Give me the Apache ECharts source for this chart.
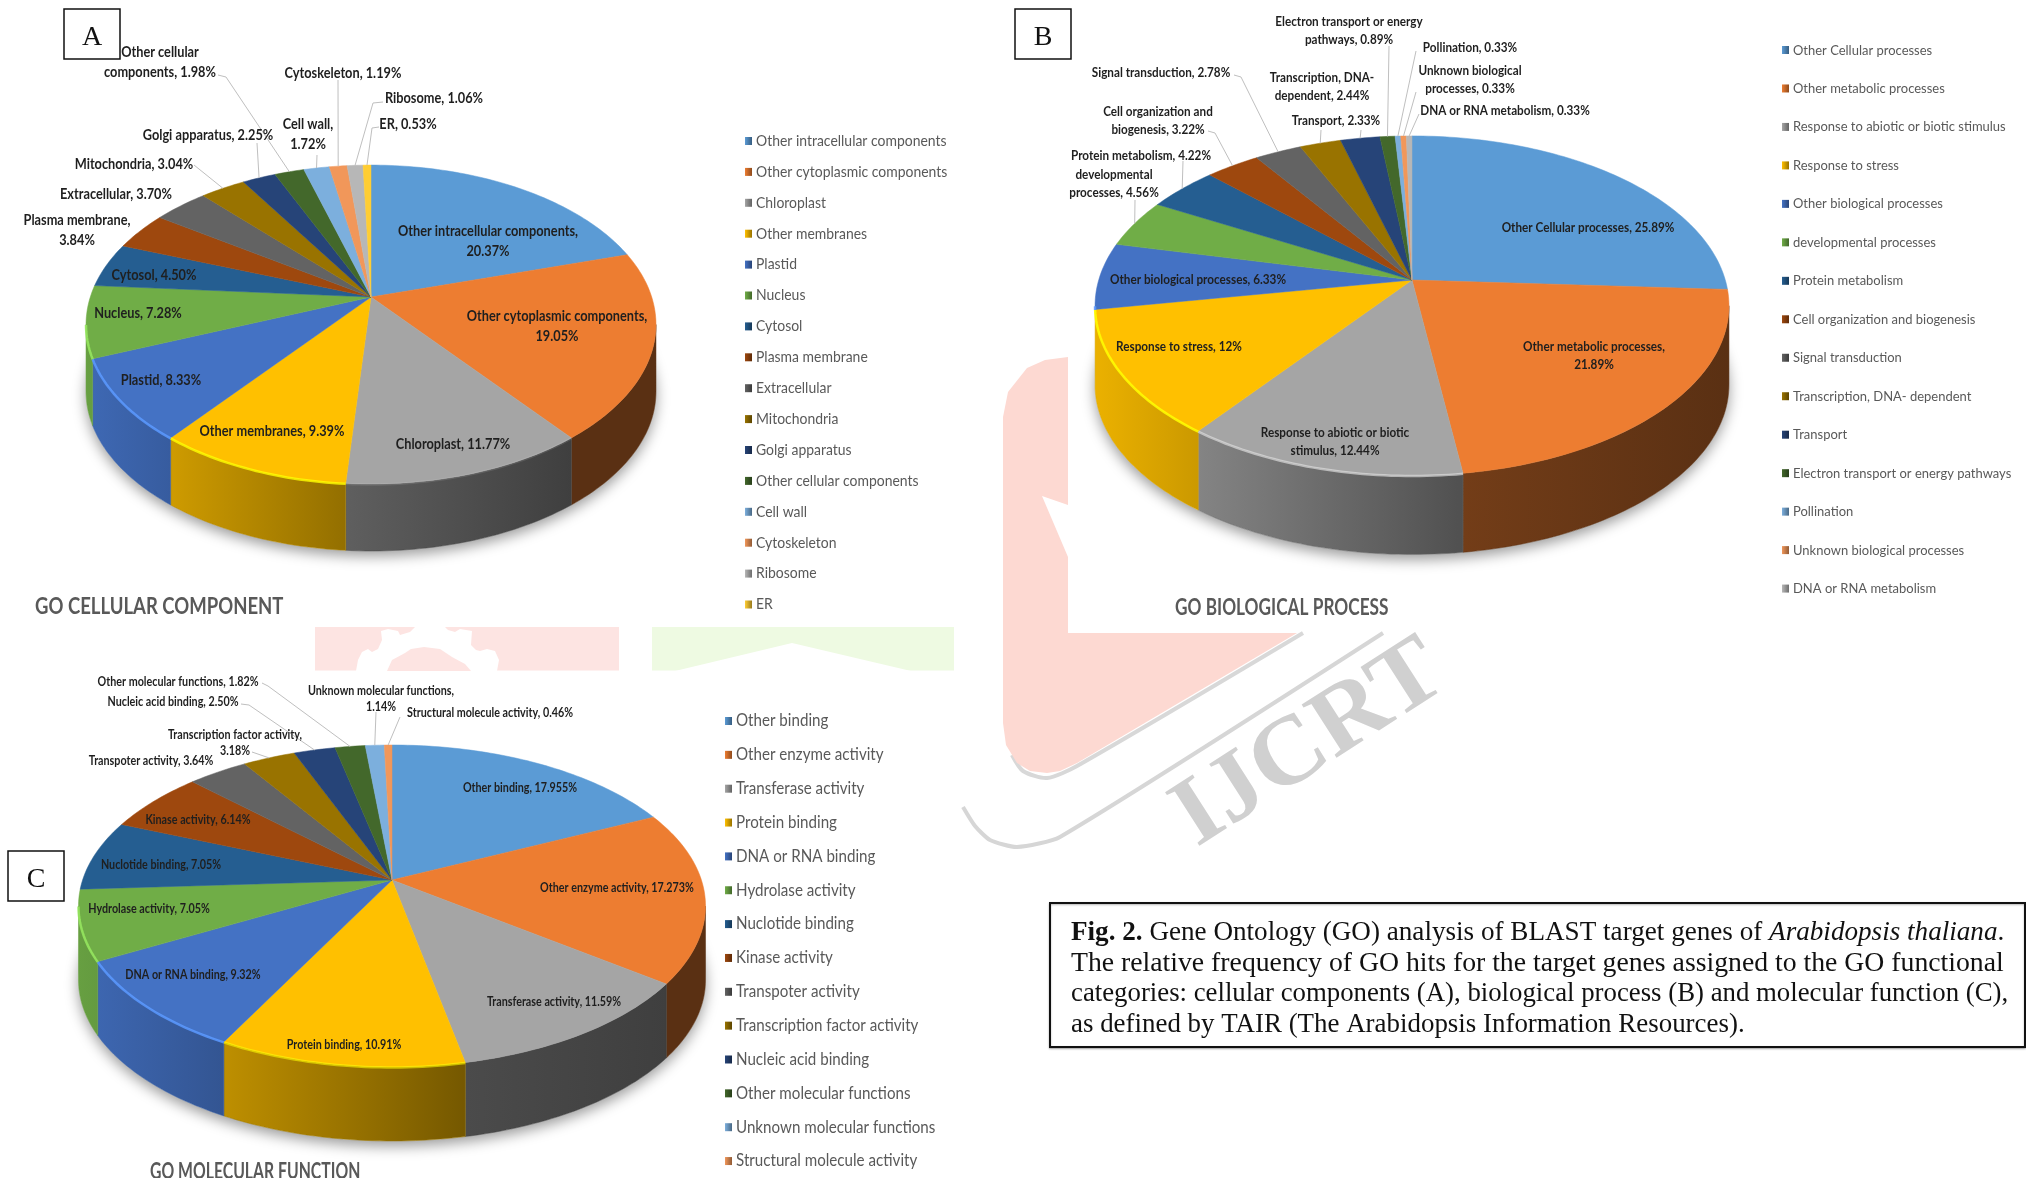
<!DOCTYPE html>
<html>
<head>
<meta charset="utf-8">
<title>Fig. 2 GO analysis</title>
<style>
  html, body { margin: 0; padding: 0; background: #fff; }
  #main { width: 2026px; height: 1178px; }
</style>
<script src="https://cdn.jsdelivr.net/npm/echarts@6/dist/echarts.min.js"></script>
</head>
<body>
<div id="main"></div>
<script>
// ---- data ----
const namesA = ["Other intracellular components", "Other cytoplasmic components", "Chloroplast", "Other membranes", "Plastid", "Nucleus", "Cytosol", "Plasma membrane", "Extracellular", "Mitochondria", "Golgi apparatus", "Other cellular components", "Cell wall", "Cytoskeleton", "Ribosome", "ER"];
const valuesA = [20.37, 19.05, 11.77, 9.39, 8.33, 7.28, 4.5, 3.84, 3.7, 3.04, 2.25, 1.98, 1.72, 1.19, 1.06, 0.53];
const labelsA = ["Other intracellular components,\n20.37%", "Other cytoplasmic components,\n19.05%", "Chloroplast, 11.77%", "Other membranes, 9.39%", "Plastid, 8.33%", "Nucleus, 7.28%", "Cytosol, 4.50%", "Plasma membrane,\n3.84%", "Extracellular, 3.70%", "Mitochondria, 3.04%", "Golgi apparatus, 2.25%", "Other cellular\ncomponents, 1.98%", "Cell wall,\n1.72%", "Cytoskeleton, 1.19%", "Ribosome, 1.06%", "ER, 0.53%"];

const namesB = ["Other Cellular processes", "Other metabolic processes", "Response to abiotic or biotic stimulus", "Response to stress", "Other biological processes", "developmental processes", "Protein metabolism", "Cell organization and biogenesis", "Signal transduction", "Transcription, DNA- dependent", "Transport", "Electron transport or energy pathways", "Pollination", "Unknown biological processes", "DNA or RNA metabolism"];
const valuesB = [25.89, 21.89, 12.44, 12, 6.33, 4.56, 4.22, 3.22, 2.78, 2.44, 2.33, 0.89, 0.33, 0.33, 0.33];
const labelsB = ["Other Cellular processes, 25.89%", "Other metabolic processes,\n21.89%", "Response to abiotic or biotic\nstimulus, 12.44%", "Response to stress, 12%", "Other biological processes, 6.33%", "developmental\nprocesses, 4.56%", "Protein metabolism, 4.22%", "Cell organization and\nbiogenesis, 3.22%", "Signal transduction, 2.78%", "Transcription, DNA-\ndependent, 2.44%", "Transport, 2.33%", "Electron transport or energy\npathways, 0.89%", "Pollination, 0.33%", "Unknown biological\nprocesses, 0.33%", "DNA or RNA metabolism, 0.33%"];

const namesC = ["Other binding", "Other enzyme activity", "Transferase activity", "Protein binding", "DNA or RNA binding", "Hydrolase activity", "Nuclotide binding", "Kinase activity", "Transpoter activity", "Transcription factor activity", "Nucleic acid binding", "Other molecular functions", "Unknown molecular functions", "Structural molecule activity"];
const valuesC = [17.955, 17.273, 11.59, 10.91, 9.32, 7.05, 7.05, 6.14, 3.64, 3.18, 2.5, 1.82, 1.14, 0.46];
const labelsC = ["Other binding, 17.955%", "Other enzyme activity, 17.273%", "Transferase activity, 11.59%", "Protein binding, 10.91%", "DNA or RNA binding, 9.32%", "Hydrolase activity, 7.05%", "Nuclotide binding, 7.05%", "Kinase activity, 6.14%", "Transpoter activity, 3.64%", "Transcription factor activity,\n3.18%", "Nucleic acid binding, 2.50%", "Other molecular functions, 1.82%", "Unknown molecular functions,\n1.14%", "Structural molecule activity, 0.46%"];

const titles = ["GO CELLULAR COMPONENT", "GO BIOLOGICAL PROCESS", "GO MOLECULAR FUNCTION"];
const captionLines = [
  "{b|Fig. 2.} Gene Ontology (GO) analysis of BLAST target genes of {i|Arabidopsis thaliana}.",
  "The relative frequency of GO hits for the target genes assigned to the GO functional",
  "categories: cellular components (A), biological process (B) and molecular function (C),",
  "as defined by TAIR (The Arabidopsis Information Resources)."
];
const sliceColors = ["#5b9bd5", "#ed7d31", "#a5a5a5", "#ffc000", "#4472c4", "#70ad47", "#255e91", "#9e480e", "#636363", "#997300", "#264478", "#43682b", "#7cafdd", "#f1975a", "#b7b7b7", "#ffcd33"];

// ---- layout: where the labels and leader lines sit, one entry per slice ----
const labelPosA = [[488,241],[557,326],[453,444],[272,431],[161,380],[138,313],[154,275],[77,230],[116,194],[134,164],[208,135],[160,62],[308,134],[343,73],[434,98],[408,124]];
const leadersA = [null,null,null,null,null,null,null,null,null,[[194,165]],[[257,143]],[[218,75],[226,77]],[[317,155]],[[338,80]],[[383,102],[373,103]],[[379,127],[372,128]]];
const labelPosB = [[1588,228],[1594,356],[1335,442],[1179,347],[1198,280],[1114,184],[1141,156],[1158,121],[1161,73],[1322,87],[1336,121],[1349,31],[1470,48],[1470,80],[1505,111]];
const leadersB = [null,null,null,null,null,[[1135,200]],[[1183,161]],[[1208,131],[1215,133]],[[1234,75],[1241,77]],[[1321,130]],[[1361,130]],[[1389,46]],[[1416,51]],[[1416,92]],[[1419,114]]];
const labelPosC = [[520,788],[617,888],[554,1002],[344,1045],[193,975],[149,909],[161,865],[198,820],[151,761],[235,743],[173,702],[178,682],[381,699],[490,713]];
const leadersC = [null,null,null,null,null,null,null,null,null,[[252,752]],[[241,704],[249,705]],[[262,683],[268,686]],[[376,712]],[[400,717]]];

// ax, ay = pie centre on screen, a, b = radii before perspective, p = perspective, h = wall height
const panels = [
  { names: namesA, values: valuesA, labels: labelsA, pos: labelPosA, leaders: leadersA, ax: 371, ay: 297, a: 280.7, b: 154.7, p: 0.1726, h: 67, fontSize: 14.5, lineHeight: 20, labelScale: 0.88,
    legendX: 745, legendY: 141, legendStep: 30.9, legendFont: 15, legendScale: 0.93 },
  { names: namesB, values: valuesB, labels: labelsB, pos: labelPosB, leaders: leadersB, ax: 1412, ay: 280, a: 313.3, b: 165.9, p: 0.1515, h: 79, fontSize: 13.8, lineHeight: 18, labelScale: 0.85,
    legendX: 1782, legendY: 50, legendStep: 38.47, legendFont: 14, legendScale: 0.927 },
  { names: namesC, values: valuesC, labels: labelsC, pos: labelPosC, leaders: leadersC, ax: 392, ay: 880, a: 309.4, b: 156.8, p: 0.1615, h: 74, fontSize: 12.5, lineHeight: 16, labelScale: 0.86,
    legendX: 725, legendY: 721, legendStep: 33.85, legendFont: 16.5, legendScale: 0.918 }
];

const sans = "Lato, 'Liberation Sans', sans-serif";
const serif = "'Liberation Serif', 'Times New Roman', serif";

// pie plane to screen, angle measured clockwise from 12 o'clock
function project(panel, angle, dy) {
  const u = Math.sin(angle);
  const v = -Math.cos(angle);
  const d = 1 / (1 - panel.p * v);
  return [panel.ax + panel.a * u * d, panel.ay + panel.b * v * d + (dy || 0)];
}

function arcPoints(panel, a0, a1, dy) {
  const n = Math.max(2, Math.ceil(Math.abs(a1 - a0) / 0.02));
  const pts = [];
  for (let i = 0; i <= n; i++) {
    pts.push(project(panel, a0 + (a1 - a0) * i / n, dy));
  }
  return pts;
}

function shade(color, f) {
  const c = echarts.color.parse(color);
  return "rgb(" + Math.round(c[0] * f) + "," + Math.round(c[1] * f) + "," + Math.round(c[2] * f) + ")";
}

function sliceAngles(values, i) {
  const total = values.reduce((s, x) => s + x, 0);
  let before = 0;
  for (let k = 0; k < i; k++) before += values[k];
  return [before / total * Math.PI * 2, (before + values[i]) / total * Math.PI * 2];
}

// side wall and soft shadow
function renderWall(panel, params) {
  const i = params.dataIndex;
  const ang = sliceAngles(panel.values, i);
  const width = 2 * panel.a / Math.sqrt(1 - panel.p * panel.p);
  const left = panel.ax - width / 2;
  const from = Math.acos(-panel.p);
  const to = 2 * Math.PI - from;
  const a0 = Math.max(ang[0], from);
  const a1 = Math.min(ang[1], to);
  const children = [];
  if (i === 0) {
    children.push({
      type: "polygon",
      z2: 0,
      shape: { points: arcPoints(panel, 0, Math.PI * 2, panel.h) },
      style: { fill: "#fff", shadowBlur: 14, shadowColor: "rgba(0,0,0,0.4)", shadowOffsetY: 5 }
    });
  }
  // a sliver right on the silhouette is not visible
  if (a1 - a0 > 0.03) {
    const top = arcPoints(panel, a0, a1, 0);
    const bottom = arcPoints(panel, a1, a0, panel.h);
    const xs = top.map((q) => q[0]);
    const t0 = (Math.min.apply(null, xs) - left) / width;
    const t1 = (Math.max.apply(null, xs) - left) / width;
    const f = (t) => Math.max(0.38, 0.92 - 0.75 * t);
    const color = sliceColors[i];
    children.push({
      type: "polygon",
      z2: 1,
      shape: { points: top.concat(bottom) },
      style: {
        fill: new echarts.graphic.LinearGradient(0, 0, 1, 0, [
          { offset: 0, color: shade(color, f(t0)) },
          { offset: 1, color: shade(color, f(t1)) }
        ]),
        stroke: shade(color, f((t0 + t1) / 2)),
        lineWidth: 0.5
      }
    });
  }
  return { type: "group", children: children };
}

// top face with the light bevel along the front edge
function renderTop(panel, params) {
  const i = params.dataIndex;
  const ang = sliceAngles(panel.values, i);
  const color = sliceColors[i];
  const rim = arcPoints(panel, ang[0], ang[1], 0);
  const children = [{
    type: "polygon",
    z2: 2,
    shape: { points: [[panel.ax, panel.ay]].concat(rim) },
    style: { fill: color, stroke: color, lineWidth: 0.5 }
  }];
  const from = Math.acos(-panel.p);
  const a0 = Math.max(ang[0], from);
  const a1 = Math.min(ang[1], 2 * Math.PI - from);
  if (a1 > a0) {
    const mid = project(panel, (a0 + a1) / 2, 0);
    const fade = Math.max(0, Math.min(1, (panel.ax + panel.a * 0.5 - mid[0]) / panel.a));
    children.push({
      type: "polyline",
      z2: 3,
      shape: { points: arcPoints(panel, a0, a1, 0.5) },
      style: { fill: "none", stroke: echarts.color.lift(color, -0.35), lineWidth: 2.5, opacity: 0.85 * fade }
    });
  }
  return { type: "group", children: children };
}

// data label and, for the small slices, its leader line to the rim
function renderLabel(panel, params) {
  const i = params.dataIndex;
  const ang = sliceAngles(panel.values, i);
  const children = [];
  if (panel.leaders[i]) {
    children.push({
      type: "polyline",
      z2: 4,
      shape: { points: panel.leaders[i].concat([project(panel, (ang[0] + ang[1]) / 2, 0)]) },
      style: { fill: "none", stroke: "#bfbfbf", lineWidth: 1 }
    });
  }
  children.push({
    type: "text",
    z2: 5,
    x: panel.pos[i][0],
    y: panel.pos[i][1],
    scaleX: panel.labelScale,
    style: {
      text: panel.labels[i],
      fill: "#1f1f1f",
      fontFamily: sans,
      fontWeight: "bold",
      fontSize: panel.fontSize,
      lineHeight: panel.lineHeight,
      align: "center",
      verticalAlign: "middle"
    }
  });
  return { type: "group", children: children };
}

// legend column
function renderLegend(panel, params) {
  const i = params.dataIndex;
  const y = panel.legendY + i * panel.legendStep;
  const color = sliceColors[i];
  return {
    type: "group",
    children: [
      {
        type: "rect",
        shape: { x: panel.legendX, y: y - 4, width: 7, height: 8 },
        style: {
          fill: new echarts.graphic.LinearGradient(0, 0, 1, 0, [
            { offset: 0, color: color },
            { offset: 1, color: shade(color, 0.6) }
          ])
        }
      },
      {
        type: "text",
        x: panel.legendX + 11,
        y: y,
        scaleX: panel.legendScale,
        style: {
          text: panel.names[i],
          fill: "#595959",
          fontFamily: sans,
          fontSize: panel.legendFont,
          align: "left",
          verticalAlign: "middle"
        }
      }
    ]
  };
}

const series = [];
panels.forEach((panel) => {
  const data = panel.values.map((v, i) => ({ name: panel.names[i], value: [v, i] }));
  [[renderWall, 3], [renderTop, 4], [renderLabel, 5], [renderLegend, 5]].forEach((layer) => {
    series.push({
      type: "custom",
      coordinateSystem: "none",
      z: layer[1],
      silent: true,
      animation: false,
      clip: false,
      data: data,
      renderItem: (params) => layer[0](panel, params)
    });
  });
});

function boxLabel(x, y, letter) {
  return [
    { type: "rect", z: 6, shape: { x: x, y: y, width: 56, height: 50 }, style: { fill: "#fff", stroke: "#111", lineWidth: 1.5 } },
    { type: "text", z: 7, x: x + 28, y: y + 29, style: { text: letter, fill: "#111", fontFamily: serif, fontSize: 28, align: "center", verticalAlign: "middle" } }
  ];
}

function titleText(x, y, text, scale) {
  return { type: "text", z: 7, x: x, y: y, scaleX: scale, style: { text: text, fill: "#595959", fontFamily: sans, fontWeight: "bold", fontSize: 23, align: "left", verticalAlign: "middle" } };
}

const captionY = [933, 963.5, 994, 1025];
const captionScale = [1.005, 1.027, 0.992, 0.997];
const captionFont = 27;
const captionText = captionLines.map((line, i) => ({
  type: "text",
  z: 7,
  x: 1071,
  y: captionY[i],
  scaleX: captionScale[i],
  style: {
    text: line,
    fill: "#111",
    fontFamily: serif,
    fontSize: captionFont,
    align: "left",
    verticalAlign: "middle",
    rich: {
      b: { fontFamily: serif, fontSize: captionFont, fontWeight: "bold", fill: "#111" },
      i: { fontFamily: serif, fontSize: captionFont, fontStyle: "italic", fill: "#111" }
    }
  }
}));

// faded journal watermark behind the panels
const gearOuter = [[356,671],[358,660],[362,652],[368,649],[372,652],[378,649],[382,640],[381,631],[388,629],[398,631],[400,635],[410,632],[415,627],[445,627],[448,630],[455,632],[460,629],[472,631],[471,645],[476,650],[480,651],[487,649],[495,651],[499,660],[497,671]];
const gearInner = [[387,671],[392,660],[405,653],[411,649],[424,647],[440,649],[452,657],[465,664],[471,671]];
const watermark = [
  { type: "rect", z: 0, shape: { x: 315, y: 627, width: 304, height: 43.5 }, style: { fill: "#fde4e2" } },
  { type: "polygon", z: 0, shape: { points: gearOuter }, style: { fill: "#fff" } },
  { type: "polygon", z: 0, shape: { points: gearInner }, style: { fill: "#fde4e2" } },
  { type: "rect", z: 0, shape: { x: 652, y: 627, width: 302, height: 43.5 }, style: { fill: "#eefae2" } },
  { type: "polygon", z: 0, shape: { points: [[675, 671], [792, 643], [911, 671]] }, style: { fill: "#fff" } },
  { type: "polyline", z: 0, shape: { points: [[1303, 633], [1077, 766], [1047, 778], [1023, 771], [1012, 755]], smooth: 0.25 }, style: { fill: "none", stroke: "#d8d8d8", lineWidth: 4 } },
  { type: "polygon", z: 0, shape: { points: [[1003, 417], [1008, 392], [1027, 368], [1045, 360], [1068, 357], [1068, 505], [1042, 496], [1068, 557], [1068, 633], [1297, 633], [1077, 763], [1060, 771], [1047, 773], [1030, 771], [1017, 763], [1006, 745], [1003, 723]] }, style: { fill: "#fdd9d2" } },
  { type: "polyline", z: 0, shape: { points: [[963, 807], [975, 826], [990, 840], [1017, 847], [1060, 837], [1383, 633]], smooth: 0.2 }, style: { fill: "none", stroke: "#d6d6d6", lineWidth: 4 } },
  { type: "text", z: 0, x: 1310, y: 745, rotation: 0.57, scaleX: 1.05, style: { text: "IJCRT", fill: "#d0d0d0", fontFamily: serif, fontWeight: "bold", fontSize: 97, align: "center", verticalAlign: "middle" } }
];

const graphics = watermark
  .concat(boxLabel(64, 9, "A"), boxLabel(1015, 9, "B"), boxLabel(8, 851, "C"))
  .concat([
    titleText(35, 606.5, titles[0], 0.805),
    titleText(1175, 608, titles[1], 0.75),
    titleText(150, 1172, titles[2], 0.686),
    { type: "rect", z: 6, shape: { x: 1050, y: 903, width: 975, height: 144 }, style: { fill: "#fff", stroke: "#111", lineWidth: 2, shadowBlur: 2, shadowColor: "rgba(0,0,0,0.3)", shadowOffsetY: 1 } }
  ])
  .concat(captionText);

const chart = echarts.init(document.getElementById("main"));
chart.setOption({
  animation: false,
  backgroundColor: "#fff",
  graphic: { elements: graphics },
  series: series
});
</script>
</body>
</html>
